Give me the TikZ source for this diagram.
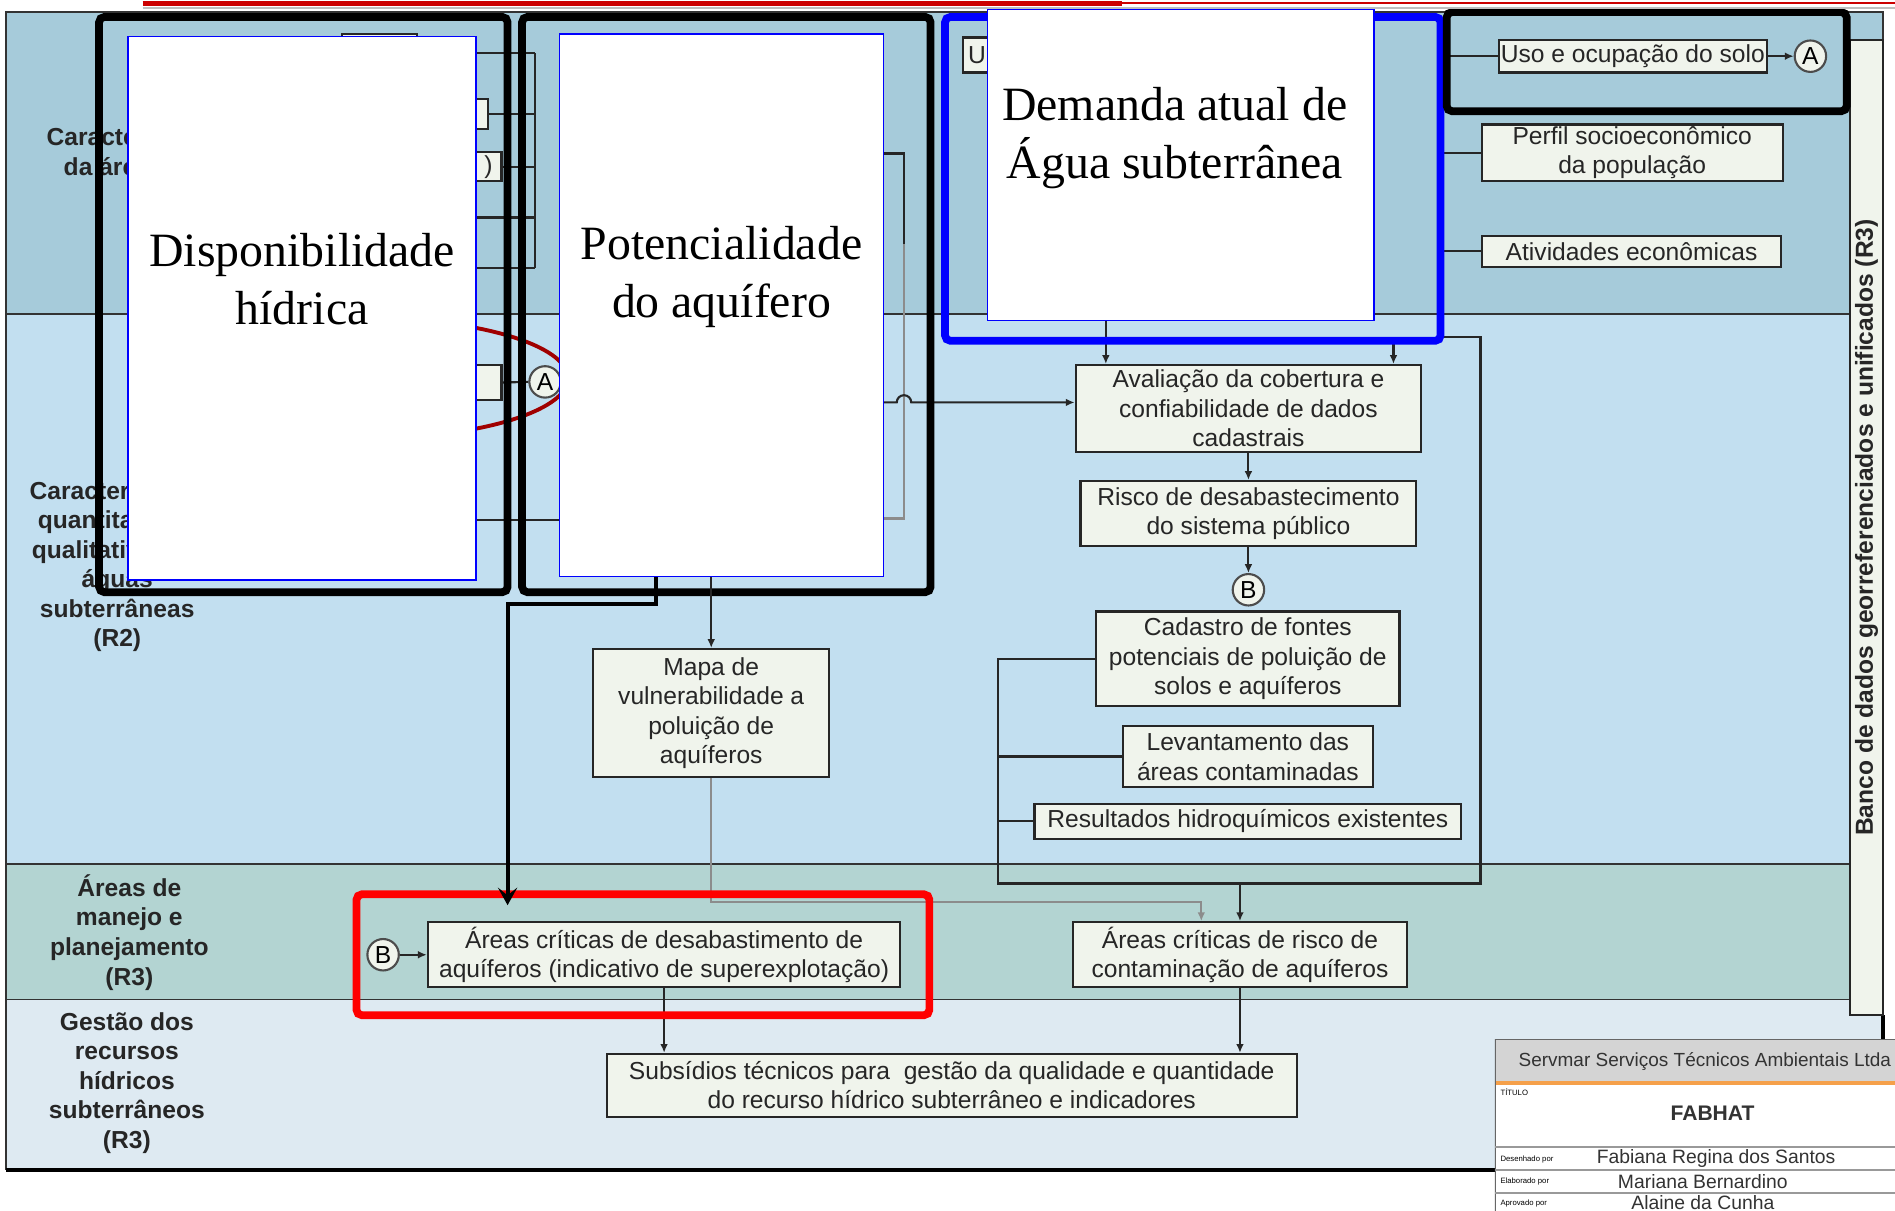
\documentclass[tikz,border=0pt]{standalone}
\usepackage{fontspec}
\setmainfont{Liberation Serif}
\newfontfamily\arialf{Liberation Sans}
\usetikzlibrary{arrows.meta}

\definecolor{bandA}{HTML}{A6CBDA}
\definecolor{bandB}{HTML}{C2DFF0}
\definecolor{bandC}{HTML}{B3D4D2}
\definecolor{bandD}{HTML}{DEEAF2}
\definecolor{boxfill}{HTML}{F0F4EC}
\definecolor{darkred}{HTML}{A00000}
\definecolor{tborange}{HTML}{F5A04A}
\def\uu{0.012086cm}

\begin{document}
\begin{tikzpicture}[
  x=\uu, y=-\uu,
  bx/.style={draw=black!85, fill=boxfill, line width=0.6pt, inner sep=0pt,
             align=center, text=black!85,
             font=\arialf\fontsize{7}{8.4}\selectfont},
  lab/.style={align=center, text=black!85,
              font=\arialf\bfseries\fontsize{7}{8.4}\selectfont},
  circ/.style={draw=black!70, fill=boxfill, circle, line width=0.6pt,
               minimum size=26*\uu, inner sep=0pt,
               font=\arialf\fontsize{7}{8.4}\selectfont},
  wbox/.style={draw=blue, fill=white, line width=0.4pt},
  big/.style={align=center, font=\fontsize{13.6}{16.5}\selectfont},
  frm/.style={line width=2.2pt, rounded corners=1.5pt},
  sepl/.style={line width=0.5pt, black!80},
  ln/.style={line width=0.6pt, black!85},
  gln/.style={line width=0.6pt, black!45},
  arr/.style={ln, -{Latex[length=2.5pt,width=2.2pt]}},
  garr/.style={gln, -{Latex[length=2.5pt,width=2.2pt]}},
  thk/.style={line width=1.1pt, -{Stealth[length=5pt,width=5.5pt,inset=2.2pt]}},
  tb/.style={inner sep=0pt, text=black!80, font=\arialf\fontsize{5.5}{6}\selectfont},
  tiny/.style={inner sep=0pt, anchor=west, font=\arialf\fontsize{2.2}{2.5}\selectfont},
]
  \useasboundingbox (0,0) rectangle (1568,1002);

  % --- bands ---
  \fill[bandA] (5,10) rectangle (1558,260);
  \fill[bandB] (5,260) rectangle (1558,715);
  \fill[bandC] (5,715) rectangle (1558,827);
  \fill[bandD] (5,827) rectangle (1558,968);
  \foreach \y in {260,715,827}
    \draw[sepl] (5,\y) -- (1531,\y);
  \draw[sepl] (1558,840) -- (1558,10) -- (5,10) -- (5,968);
  \draw[line width=1pt] (5,968) -- (1237,968);
  \draw[line width=1pt] (1558,840) -- (1558,862);

  % --- band labels ---
  \node[lab] (labA) at (111,127.5) {Caracterização\\da área (R1)};
  \node[lab] (labB) at (97,469) {Caracterização\\quantitativa e\\qualitativa das\\águas\\subterrâneas\\(R2)};
  \node[lab] (labC) at (107,771.5) {Áreas de\\manejo e\\planejamento\\(R3)};
  \node[lab] (labD) at (105,896) {Gestão dos\\recursos\\hídricos\\subterrâneos\\(R3)};

  \node[bx, rotate=90, minimum width=807*\uu, minimum height=27*\uu,
        font=\arialf\bfseries\fontsize{7}{8.4}\selectfont] (banco) at (1544.5,436.5)
    {Banco de dados georreferenciados e unificados (R3)};

  % --- boxes partly hidden ---
  \node[bx, minimum width=62*\uu, minimum height=32*\uu] (hTop) at (314,44) {};
  \node[bx, minimum width=154*\uu, minimum height=25*\uu] (hA) at (327,94.5) {};
  \node[bx, minimum width=165*\uu, minimum height=24*\uu, text width=150*\uu,
        align=right] (hB) at (332.5,138) {)};
  \node[bx, minimum width=165*\uu, minimum height=29*\uu] (hC) at (332.5,316.5) {};
  \node[bx, minimum width=103*\uu, minimum height=29*\uu, text width=95*\uu,
        align=left] (hU) at (848.5,45.5) {U};
  \node[circ] (cA2) at (451,316) {A};

  \coordinate (bus) at (443,44);
  \draw[ln] (bus) -- (443,222);
  \foreach \y in {44,180,222}
    \draw[ln] (380,\y) -- (443,\y);
  \draw[ln] (hA.east) -- (hA.east -| bus);
  \draw[ln] (hB.east) -- (hB.east -| bus);
  \draw[ln] (hC.east) -- (cA2.west);
  \draw[ln] (394,430) -- (463,430);
  \draw[darkred, line width=1.1pt] (300,313) ellipse [x radius=170, y radius=50];

  % --- right column ---
  \node[bx, minimum width=222*\uu, minimum height=27*\uu] (uso) at (1351,46.5) {Uso e ocupação do solo};
  \node[circ] (cA1) at (1498,46.5) {A};
  \node[bx, minimum width=249*\uu, minimum height=47*\uu] (perfil) at (1350.5,126.5) {Perfil socioeconômico\\da população};
  \node[bx, minimum width=248*\uu, minimum height=26*\uu] (ativ) at (1350,208) {Atividades econômicas};
  \draw[arr] (uso.east) -- (cA1.west);
  \draw[ln] (uso.west) -- ++(-43,0);
  \draw[ln] (perfil.west) -- ++(-34,0);
  \draw[ln] (ativ.west) -- ++(-34,0);

  \node[bx, minimum width=286*\uu, minimum height=72*\uu] (aval) at (1033,338) {Avaliação da cobertura e\\confiabilidade de dados\\cadastrais};
  \node[bx, minimum width=278*\uu, minimum height=54*\uu] (risco) at (1033,425) {Risco de desabastecimento\\do sistema público};
  \node[circ] (cB1) at (1033,488) {B};
  \node[bx, minimum width=251*\uu, minimum height=78*\uu] (cad) at (1032.5,545) {Cadastro de fontes\\potenciais de poluição de\\solos e aquíferos};
  \node[bx, minimum width=207*\uu, minimum height=50*\uu] (lev) at (1032.5,626) {Levantamento das\\áreas contaminadas};
  \node[bx, minimum width=353*\uu, minimum height=29*\uu] (res) at (1032.5,679.5) {Resultados hidroquímicos existentes};
  \node[bx, minimum width=195*\uu, minimum height=106*\uu] (mapa) at (588.5,590) {Mapa de\\vulnerabilidade a\\poluição de\\aquíferos};
  \node[bx, minimum width=276*\uu, minimum height=54*\uu] (crit) at (1026,790) {Áreas críticas de risco de\\contaminação de aquíferos};
  \node[bx, minimum width=391*\uu, minimum height=54*\uu] (desab) at (549.5,790) {Áreas críticas de desabastimento de\\aquíferos (indicativo de superexplotação)};
  \node[circ] (cB2) at (317,790) {B};
  \node[bx, minimum width=571*\uu, minimum height=52*\uu] (subs) at (787.5,898) {Subsídios técnicos para\ \ gestão da qualidade e quantidade\\do recurso hídrico subterrâneo e indicadores};

  \coordinate (d1) at (915,265);
  \coordinate (d2) at (1153,282);
  \draw[arr] (d1) -- (d1 |- aval.north);
  \draw[arr] (d2) -- (d2 |- aval.north);
  \draw[arr] (aval.south) -- (risco.north);
  \draw[arr] (risco.south) -- (cB1.north);

  \coordinate (brL) at (826,731);
  \draw[ln] (1192,279) -- (1225,279) |- (brL) |- (cad.west);
  \draw[ln] (lev.west) -- (lev.west -| brL);
  \draw[ln] (res.west) -- (res.west -| brL);
  \draw[arr] (crit.north |- brL) -- (crit.north);

  % --- from the aquifer box ---
  \coordinate (h1) at (731,333);
  \draw[ln] (731,127) -- (748,127) -- (748,202);
  \draw[gln] (748,202) -- (748,429) -- (731,429);
  \draw[arr] (h1) -- (742,333) arc[start angle=180, end angle=360, radius=6]
    -- (h1 -| aval.west);

  \coordinate (g1) at (994,746);
  \draw[garr] (mapa.south) |- (g1) -- (g1 |- crit.north);
  \draw[arr] (cB2.east) -- (desab.west);
  \draw[arr] (desab.south) -- (desab.south |- subs.north);
  \draw[arr] (crit.south) -- (crit.south |- subs.north);

  % --- highlight frames ---
  \draw[frm] (82,14) rectangle (420,490);
  \draw[frm] (432,14) rectangle (770,490);
  \draw[frm, blue] (782,14) rectangle (1192,282);
  \draw[frm] (1197,10) rectangle (1528,92);
  \draw[frm, red] (295,740) rectangle (769,840);

  % --- white cover boxes ---
  \node[wbox, minimum width=288*\uu, minimum height=450*\uu] (disp) at (250,255) {};
  \node[big] (disptxt) at (250,231) {Disponibilidade\\hídrica};
  \node[wbox, minimum width=268*\uu, minimum height=449*\uu] (pot) at (597,252.5) {};
  \node[big] (pottxt) at (597,229) {Potencialidade\\do aquífero};
  \node[wbox, minimum width=320*\uu, minimum height=257*\uu] (dem) at (977,136.5) {};
  \node[big] (demtxt) at (972,114) {Demanda atual de\\Água subterrânea};

  \coordinate (t1) at (543,500);
  \coordinate (t2) at (420,749);
  \draw[arr] (pot.south -| mapa.north) -- (mapa.north);
  \draw[thk] (t1 |- pot.south) -- (t1) -| (t2);

  % --- title block ---
  \begin{scope}
    \clip (1237,860) rectangle (1568,1002);
    \fill[white] (1237,860) rectangle (1568,1002);
    \fill[black!17] (1237,860) rectangle (1568,895);
    \draw[tborange, line width=1pt] (1237,896) -- (1568,896);
    \draw[black!60, line width=0.6pt] (1568,860) -- (1237,860) -- (1237,1002);
    \foreach \y in {949,968,987}
      \draw[black!40, line width=0.4pt] (1237,\y) -- (1568,\y);
    \node[tb, anchor=west, font=\arialf\fontsize{5.4}{6}\selectfont] (firm) at (1256,878.5) {Servmar Serviços Técnicos Ambientais Ltda};
    \node[tb, font=\arialf\bfseries\fontsize{6}{7}\selectfont] (proj) at (1417,921) {FABHAT};
    \node[tb] (nm1) at (1420,959) {Fabiana Regina dos Santos};
    \node[tb] (nm2) at (1409,978) {Mariana Bernardino};
    \node[tb] (nm3) at (1409,995) {Alaine da Cunha};
    \node[tiny] (t0) at (1241,904) {TÍTULO};
    \node[tiny] (t3) at (1241,959) {Desenhado por};
    \node[tiny] (t4) at (1241,978) {Elaborado por};
    \node[tiny] (t5) at (1241,996) {Aprovado por};
  \end{scope}

  % --- top rule ---
  \draw[black!25, line width=0.4pt] (118,6.5) -- (1568,6.5);
  \draw[red!80!black, line width=1.3pt] (118,3) -- (928,3);
  \draw[red!80!black, line width=0.4pt] (928,2.5) -- (1568,2.5);
\end{tikzpicture}
\end{document}
